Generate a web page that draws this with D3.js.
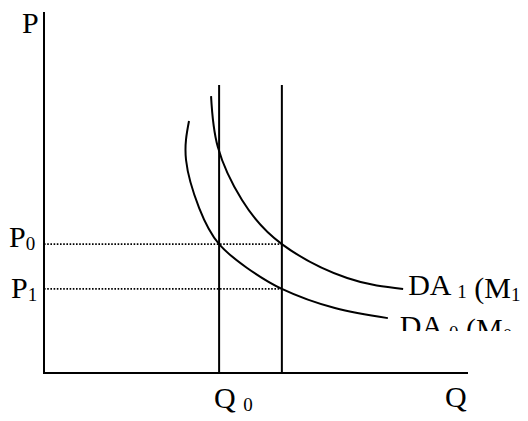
<!DOCTYPE html>
<html>
<head>
<meta charset="utf-8">
<script src="https://cdn.jsdelivr.net/npm/d3@7"></script>
<style>
  html, body { margin: 0; padding: 0; background: #fff; }
  svg { display: block; }
</style>
</head>
<body>
<div id="chart"></div>
<script>
// Quantity levels of the two vertical (money supply) lines, and price levels
const qLevels = [41.3, 56.1];
const pLevels = [35.7, 23.3];
const pLabels = ["0", "1"];
const verticalTop = 79.8;

// DA1 (M1) curve
const da1Q = [39.4, 41.0, 46.7, 56.1, 71.5, 84.7];
const da1P = [76.7, 62.6, 47.9, 35.7, 26.3, 23.3];

// DA0 (M0) curve
const da0Q = [34.2, 33.5, 36.6, 41.3, 47.9, 56.1, 68.6, 81.1];
const da0P = [69.8, 59.0, 45.7, 35.7, 29.1, 23.3, 18.0, 15.2];

const W = 528, H = 421;
const FONT = "'Liberation Serif', 'Times New Roman', 'DejaVu Serif', serif";

const svg = d3.select("#chart").append("svg")
    .attr("width", W).attr("height", H);

const x = d3.scaleLinear().domain([0, 100]).range([44, 468]);
const y = d3.scaleLinear().domain([0, 100]).range([373, 12]);

const zip = (qs, ps) => qs.map((q, i) => [q, ps[i]]);
const line = d3.line().x(d => x(d[0])).y(d => y(d[1])).curve(d3.curveNatural);

// dotted price guides
svg.selectAll(".guide").data(pLevels).enter().append("line")
    .attr("x1", x(0)).attr("x2", x(qLevels[1]))
    .attr("y1", d => y(d)).attr("y2", d => y(d))
    .attr("stroke", "#000").attr("stroke-width", 1.6)
    .attr("stroke-dasharray", "1.6,1.6");

// vertical lines
svg.selectAll(".vline").data(qLevels).enter().append("line")
    .attr("x1", d => x(d)).attr("x2", d => x(d))
    .attr("y1", y(0)).attr("y2", y(verticalTop))
    .attr("stroke", "#000").attr("stroke-width", 2);

// demand curves
[zip(da1Q, da1P), zip(da0Q, da0P)].forEach(pts => {
    svg.append("path").attr("d", line(pts))
        .attr("fill", "none").attr("stroke", "#000").attr("stroke-width", 2);
});

// axes
svg.append("line").attr("x1", x(0)).attr("x2", x(0))
    .attr("y1", y(100)).attr("y2", y(0))
    .attr("stroke", "#000").attr("stroke-width", 2);
svg.append("line").attr("x1", x(0) - 1).attr("x2", x(100))
    .attr("y1", y(0)).attr("y2", y(0))
    .attr("stroke", "#000").attr("stroke-width", 2);

// helper for label with subscripts
function label(xp, yp, parts) {
    const t = svg.append("text").attr("x", xp).attr("y", yp)
        .attr("font-family", FONT).attr("font-size", 30).attr("fill", "#000");
    parts.forEach(p => {
        if (p.sub) {
            t.append("tspan").attr("dy", 3).attr("font-size", 19).text(p.t);
            t.append("tspan").attr("dy", -3).text("");
        } else {
            t.append("tspan").text(p.t);
        }
    });
    return t;
}

label(22, 33, [{t: "P"}]);
pLevels.forEach((p, i) => {
    label(i === 0 ? 9 : 11, y(p) + (i === 0 ? 3 : 9), [{t: "P"}, {t: pLabels[i], sub: true}]);
});
label(x(qLevels[0]) - 5, 408, [{t: "Q "}, {t: "0", sub: true}]);
label(x(100) - 23, 407, [{t: "Q"}]);

// curve labels
const endDA1 = da1Q.length - 1, endDA0 = da0Q.length - 1;
label(x(da1Q[endDA1]) + 5, y(da1P[endDA1]) + 6, [{t: "DA "}, {t: "1", sub: true}, {t: " (M"}, {t: "1", sub: true}]);

svg.append("clipPath").attr("id", "cut")
    .append("rect").attr("x", 0).attr("y", 0).attr("width", W).attr("height", 331);
label(x(da0Q[endDA0]) + 12, y(da0P[endDA0]) + 18, [{t: "DA "}, {t: "0", sub: true}, {t: " (M"}, {t: "0", sub: true}])
    .attr("clip-path", "url(#cut)");
</script>
</body>
</html>
